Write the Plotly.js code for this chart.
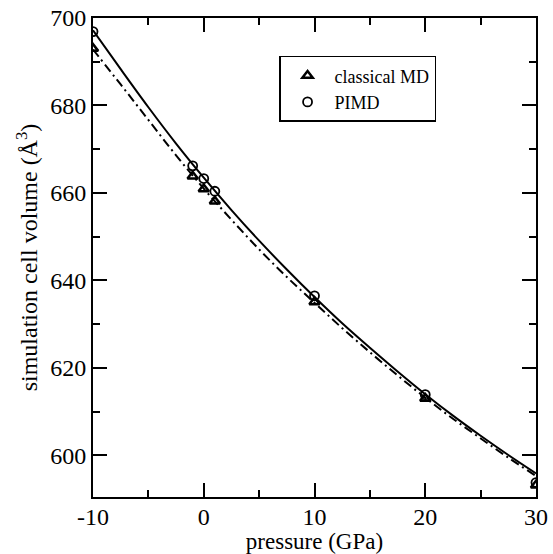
<!DOCTYPE html>
<html><head><meta charset="utf-8">
<script src="https://cdn.plot.ly/plotly-3.0.1.min.js"></script>
<style>body{margin:0;padding:0;background:#fff}#chart{width:553px;height:554px}</style>
</head><body><div id="chart"></div>
<script>
// Data points
const pressure = [-10, -1, 0, 1, 10, 20, 30];
const volClassical = [693.0, 663.8, 660.9, 658.1, 635.1, 613.0, 593.2];
const volPIMD = [696.9, 666.2, 663.3, 660.4, 636.5, 613.9, 593.8];
// Fitted curves
const fitPressure = [-10, -7.5, -5, -2.5, 0, 2.5, 5, 7.5, 10, 12.5, 15, 17.5, 20, 22.5, 25, 27.5, 30];
const fitPIMD = [697.2, 688.3, 679.6, 671.3, 663.5, 656.1, 649.1, 642.5, 636.2, 630.2, 624.6, 619.2, 614.0, 609.1, 604.5, 600.1, 595.9];
const fitClassical = [692.8, 684.8, 676.7, 668.6, 661.0, 653.9, 647.1, 640.8, 634.9, 629.1, 623.6, 618.3, 613.2, 608.4, 603.9, 599.5, 595.3];
// Tick labels
const xTickVals = [-10, 0, 10, 20, 30];
const xTickText = ['-10', '0', '10', '20', '30'];
const yTickVals = [600, 620, 640, 660, 680, 700];
const yTickText = ['600', '620', '640', '660', '680', '700'];

const traces = [
  {x: fitPressure, y: fitPIMD, mode: 'lines', line: {color: '#000', width: 2, shape: 'spline'}, showlegend: false, hoverinfo: 'skip'},
  {x: fitPressure, y: fitClassical, mode: 'lines', line: {color: '#000', width: 2, dash: '9px,4px,2px,4px', shape: 'spline'}, showlegend: false, hoverinfo: 'skip'},
  {x: pressure, y: volClassical, mode: 'markers', name: 'classical MD', marker: {symbol: 'triangle-up-open', size: 9, color: '#000', line: {color: '#000', width: 2.5}}},
  {x: pressure, y: volPIMD, mode: 'markers', name: 'PIMD', marker: {symbol: 'circle-open', size: 9, color: '#000', line: {color: '#000', width: 1.8}}},
  // invisible helper trace so the mirrored tick axes are drawn
  {x: pressure, y: volPIMD, xaxis: 'x2', yaxis: 'y2', mode: 'markers', marker: {opacity: 0}, showlegend: false, hoverinfo: 'skip'}
];

const font = {family: '"Liberation Serif", "Times New Roman", serif', color: '#000'};
const tickStyle = {ticks: 'inside', ticklen: 14, tickwidth: 2, tickcolor: '#000'};
const layout = {
  width: 553, height: 554,
  margin: {l: 93, r: 17, t: 18, b: 57},
  paper_bgcolor: '#fff', plot_bgcolor: '#fff',
  font: Object.assign({size: 20}, font),
  showlegend: true,
  legend: {x: 0.42, y: 0.921, xanchor: 'left', yanchor: 'top', bordercolor: '#000', borderwidth: 1.5, bgcolor: '#fff',
           font: Object.assign({size: 18}, font), tracegroupgap: 0, itemwidth: 44},
  xaxis: Object.assign({
    range: [-10, 30], tickmode: 'array', tickvals: xTickVals, ticktext: xTickText, showgrid: false, zeroline: false,
    showline: true, linecolor: '#000', linewidth: 2, mirror: true, ticklabelstandoff: -3,
    minor: {dtick: 5, tick0: -10, ticks: 'inside', ticklen: 7, tickwidth: 2, tickcolor: '#000', showgrid: false},
    tickfont: Object.assign({size: 24}, font),
    title: {text: 'pressure (GPa)', font: Object.assign({size: 23}, font), standoff: 0}
  }, tickStyle),
  yaxis: Object.assign({
    range: [590.5, 700], tickmode: 'array', tickvals: yTickVals, ticktext: yTickText, showgrid: false, zeroline: false,
    showline: true, linecolor: '#000', linewidth: 2, mirror: true,
    minor: {dtick: 10, tick0: 600, ticks: 'inside', ticklen: 7, tickwidth: 2, tickcolor: '#000', showgrid: false},
    tickfont: Object.assign({size: 24}, font),
    title: {text: 'simulation cell volume (Å<sup>3</sup>)', font: Object.assign({size: 24}, font), standoff: 6}
  }, tickStyle),
  xaxis2: Object.assign({
    overlaying: 'x', side: 'top', range: [-10, 30], tickmode: 'array', tickvals: xTickVals, showticklabels: false,
    showgrid: false, zeroline: false, showline: false,
    minor: {dtick: 5, tick0: -10, ticks: 'inside', ticklen: 7, tickwidth: 2, tickcolor: '#000', showgrid: false}
  }, tickStyle),
  yaxis2: Object.assign({
    overlaying: 'y', side: 'right', range: [590.5, 700], tickmode: 'array', tickvals: yTickVals, showticklabels: false,
    showgrid: false, zeroline: false, showline: false,
    minor: {dtick: 10, tick0: 600, ticks: 'inside', ticklen: 7, tickwidth: 2, tickcolor: '#000', showgrid: false}
  }, tickStyle)
};
Plotly.newPlot('chart', traces, layout, {staticPlot: true});
</script></body></html>
